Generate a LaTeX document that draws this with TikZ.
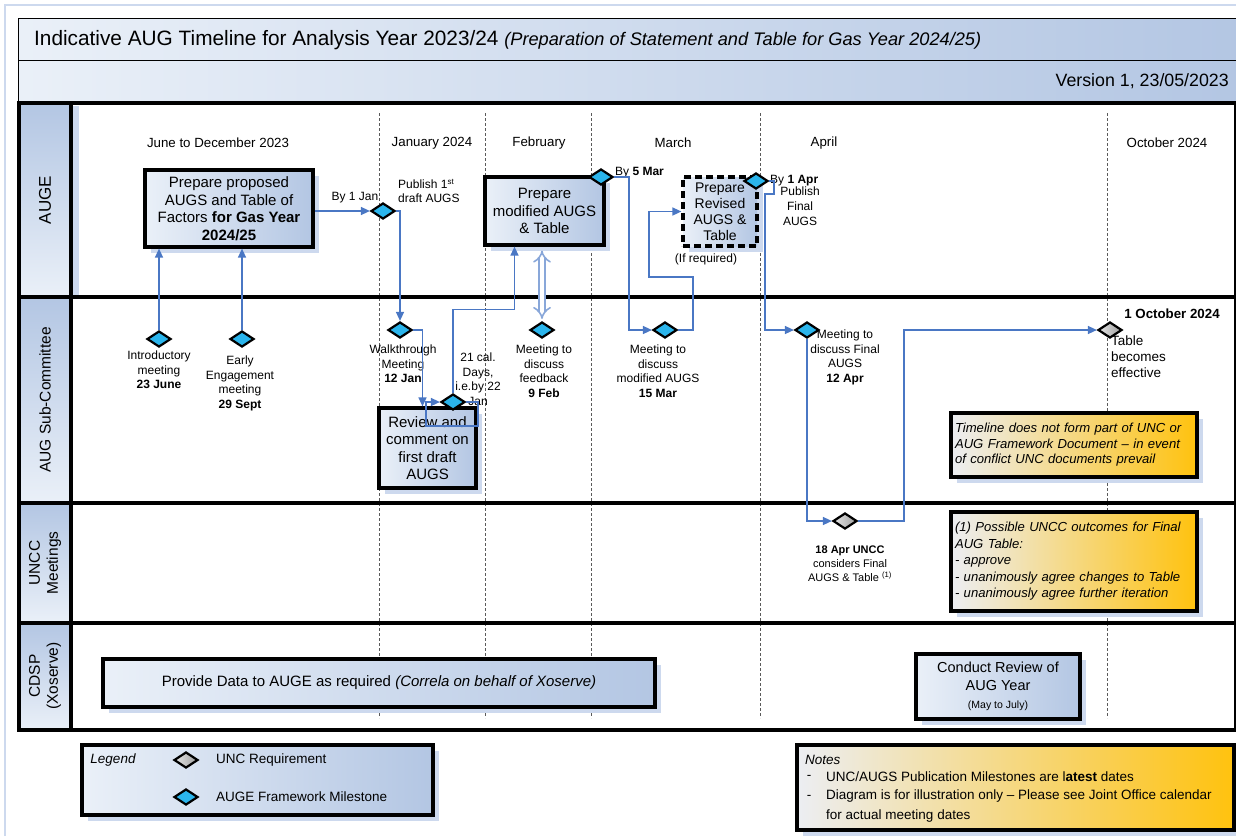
\documentclass[tikz,border=0pt]{standalone}
\usepackage{fontspec}
\setmainfont{Liberation Sans}
\usetikzlibrary{arrows.meta, calc, positioning, shapes.geometric, shadows}
\definecolor{PaleBlue}{HTML}{EAF0F8}
\definecolor{DeepBlue}{HTML}{B3C6E3}
\definecolor{ShadowBlue}{HTML}{CDD9EE}
\definecolor{LinkBlue}{HTML}{4A77C4}
\definecolor{MileBlue}{HTML}{2BB5EC}
\definecolor{Amber}{HTML}{FFC20E}
\definecolor{NoteGrey}{HTML}{ECEEF3}
\definecolor{GridGrey}{HTML}{5A5A5A}
\newcommand{\fsz}[2]{\fontsize{#1}{#2}\selectfont}
\tikzset{
  band/.style={draw=black, line width=0.9pt, left color=PaleBlue, right color=DeepBlue},
  lanehead/.style={top color=DeepBlue, bottom color=PaleBlue},
  laneline/.style={line width=3.5pt, color=black},
  monthline/.style={dash pattern=on 3pt off 2pt, draw=GridGrey, line width=1pt},
  month/.style={font=\fsz{13.3}{15}},
  lanetitle/.style={rotate=90, font=\fsz{15.5}{18}, align=center},
  taskbox/.style={draw=black, line width=3.2pt, left color=PaleBlue, right color=DeepBlue,
    align=center, inner sep=0pt, font=\fsz{15}{17.5},
    drop shadow={shadow xshift=6pt, shadow yshift=-6pt, fill=ShadowBlue, opacity=1}},
  revisedbox/.style={taskbox, dash pattern=on 7pt off 4pt, font=\fsz{14}{16}},
  notebox/.style={draw=black, line width=3.2pt, left color=NoteGrey, right color=Amber,
    align=left, inner sep=0pt,
    drop shadow={shadow xshift=6pt, shadow yshift=-6pt, fill=ShadowBlue, opacity=1}},
  milestone/.style={diamond, aspect=1.5, draw=black, line width=2.2pt, fill=MileBlue,
    minimum width=24pt, minimum height=16pt, inner sep=0pt},
  uncreq/.style={diamond, aspect=1.5, draw=black, line width=2.2pt,
    left color=gray!20, right color=gray!75,
    minimum width=24pt, minimum height=16pt, inner sep=0pt},
  link/.style={draw=LinkBlue, line width=1.4pt, -{Triangle[length=9pt, width=8pt]}},
  feedlink/.style={draw=LinkBlue!65, double=white, double distance=4.5pt, line width=1.6pt,
    {Implies}-{Implies}},
  label/.style={align=center, inner sep=0pt, font=\fsz{12}{14.5}},
  bylabel/.style={inner sep=0pt, font=\fsz{12}{14}},
}

\begin{document}
\begin{tikzpicture}[x=1pt, y=-1pt]
  \useasboundingbox (0,0) rectangle (1236,836);
  \draw[ShadowBlue, line width=1.5pt] (5,836) -- (5,5) -- (1236,5);

  % Title
  \draw[band] (18,18) rectangle (1245,60);
  \node[anchor=west, inner sep=0pt, font=\fsz{20.8}{22}] (title) at (34,40)
    {Indicative AUG Timeline for Analysis Year 2023/24 {\fsz{18.2}{20}\itshape (Preparation of Statement and Table for Gas Year 2024/25)}};
  \draw[band] (18,60) rectangle (1245,102);
  \node[anchor=east, inner sep=0pt, font=\fsz{17.8}{20}] (version) at (1229,81) {Version 1, 23/05/2023};

  % Lane headers
  \fill[lanehead] (19,103) rectangle (71,297);
  \fill[lanehead] (19,297) rectangle (71,503);
  \fill[lanehead] (19,503) rectangle (71,623);
  \fill[lanehead] (19,623) rectangle (71,730);
  \fill[ShadowBlue] (73,106) rectangle (79,295);
  \node[lanetitle, font=\fsz{17}{19}] (lane1) at (45,200) {AUGE};
  \node[lanetitle] (lane2) at (45,400) {AUG Sub-Committee};
  \node[lanetitle] (lane3) at (45,563) {UNCC\\Meetings};
  \node[lanetitle] (lane4) at (45,676) {CDSP\\(Xoserve)};

  % Month separators
  \foreach \mx in {379,485,591,760,1107}
    \draw[monthline] (\mx,113) -- (\mx,718);
  \node[month] (m1) at (218,143) {June to December 2023};
  \node[month] (m2) at (432,143) {January 2024};
  \node[month] (m3) at (539,143) {February};
  \node[month] (m4) at (673,143) {March};
  \node[month] (m5) at (824,143) {April};
  \node[month] (m6) at (1167,143) {October 2024};

  % Lane frame
  \foreach \ly in {103,297,503,623,730}
    \draw[laneline] (17.25,\ly) -- (1236,\ly);
  \draw[laneline] (19,103) -- (19,731.75);
  \draw[laneline] (71,103) -- (71,731.75);
  \draw[line width=2pt] (1235,103) -- (1235,730);

  % AUGE lane
  \node[taskbox, minimum width=168pt, minimum height=77pt] (propbox) at (229,208.5)
    {Prepare proposed\\AUGS and Table of\\Factors \textbf{for Gas Year}\\\textbf{2024/25}};
  \node[milestone] (jan1) at (383,211) {};
  \node[bylabel] (jan1txt) at (355,198) {By 1 Jan};
  \node[bylabel, anchor=north west, align=left] (publish1) at (398,179) {Publish 1\textsuperscript{st}\\draft AUGS};
  \node[taskbox, minimum width=119pt, minimum height=68pt] (modbox) at (544.5,211)
    {Prepare\\modified AUGS\\\& Table};
  \node[milestone] (mar5) at (601,177) {};
  \node[bylabel, anchor=west] (mar5txt) at (615,173) {By \textbf{5 Mar}};
  \node[revisedbox, minimum width=74pt, minimum height=69pt] (revbox) at (720,211.5)
    {Prepare\\Revised\\AUGS \&\\Table};
  \node[label] (ifreq) at (706,259) {(If required)};
  \node[milestone] (apr1) at (756,181) {};
  \node[label, font=\fsz{12}{15}] (publishfin) at (800,206) {Publish\\Final\\AUGS};
  \node[bylabel, anchor=west] (apr1txt) at (770,181) {By \textbf{1 Apr}};

  % AUG Sub-Committee lane
  \node[milestone] (intro) at (159,339) {};
  \node[label, anchor=north] (introtxt) at (159,351) {Introductory\\meeting\\\textbf{23 June}};
  \node[milestone] (early) at (242,339) {};
  \node[label, anchor=north] (earlytxt) at (240,356) {Early\\Engagement\\meeting\\\textbf{29 Sept}};
  \node[milestone] (walk) at (400,330) {};
  \node[label, anchor=north] (walktxt) at (403,345) {Walkthrough\\Meeting\\\textbf{12 Jan}};
  \node[taskbox, minimum width=97pt, minimum height=80pt] (review) at (427.5,448)
    {Review and\\comment on\\first draft\\AUGS};
  \node[milestone] (jan22) at (453,402) {};
  \node[label, anchor=north] (jan22txt) at (478,353) {21 cal.\\Days,\\i.e.by 22\\Jan};
  \node[milestone] (feedback) at (542,330) {};
  \node[label, anchor=north] (feedtxt) at (544,345) {Meeting to\\discuss\\feedback\\\textbf{9 Feb}};
  \node[milestone] (mar15) at (665,330) {};
  \node[label, anchor=north] (mar15txt) at (658,345) {Meeting to\\discuss\\modified AUGS\\\textbf{15 Mar}};
  \node[milestone] (final) at (807,330) {};
  \node[label, anchor=north] (finaltxt) at (845,330) {Meeting to\\discuss Final\\AUGS\\\textbf{12 Apr}};
  \node[uncreq] (oct1) at (1110,330) {};
  \node[bylabel, font=\bfseries\fsz{13.3}{14}] (oct1txt) at (1172,314) {1 October 2024};
  \node[anchor=north west, align=left, inner sep=0pt, font=\fsz{13.5}{16}] (effective) at (1111,336)
    {Table\\becomes\\effective};
  \node[notebox, minimum width=246pt, minimum height=64pt, text width=238pt, font=\itshape\fsz{13.1}{15.5}]
    (disclaimer) at (1074,445)
    {Timeline does not form part of UNC or\\AUG Framework Document -- in event\\of conflict UNC documents prevail};

  % UNCC lane
  \node[uncreq] (uncc) at (845,521) {};
  \node[label, font=\fsz{11}{14}] (uncctxt) at (850,564)
    {\textbf{18 Apr UNCC}\\considers Final\\AUGS \& Table \textsuperscript{(1)}};
  \node[notebox, minimum width=246pt, minimum height=99pt, text width=238pt, font=\itshape\fsz{13.1}{16.5}]
    (outcomes) at (1074,561.5)
    {(1) Possible UNCC outcomes for Final\\AUG Table:\\- approve\\- unanimously agree changes to Table\\- unanimously agree further iteration};

  % CDSP lane
  \node[taskbox, minimum width=552pt, minimum height=48pt, font=\fsz{15}{16}] (provide) at (379,683)
    {Provide Data to AUGE as required \textit{(Correla on behalf of Xoserve)}};
  \node[taskbox, minimum width=164pt, minimum height=65pt, font=\fsz{14.5}{18}] (conduct) at (998,686.5)
    {Conduct Review of\\AUG Year\\{\fsz{10.5}{12}(May to July)}};

  % Connectors
  \draw[link] (propbox.east |- jan1) -- (jan1.west);
  \draw[link] (jan1.east) -| (walk.north);
  \draw[link] (intro.north) -- (intro.north |- propbox.south);
  \draw[link] (early.north) -- (early.north |- propbox.south);
  \draw[link] (walk.east) -| ($(review.north)+(-5,0)$);
  \draw[link] (jan22.east) -- ++(12,0) -- ++(0,24) -| ($(jan22.west)+(-14,0)$) -- (jan22.west);
  \draw[link] (jan22.north) |- ($(modbox.south)+(-30,63)$) -- ($(modbox.south)+(-30,0)$);
  \draw[feedlink] ($(feedback |- modbox.south)+(0,4)$) -- ($(feedback.north)+(0,-2)$);
  \draw[link] (mar5.east) -- ++(15,0) |- (mar15.west);
  \draw[link] (mar15.east) -- ++(15,0) |- ++(-44,-53) |- (revbox.west);
  \draw[link] (apr1.east) -- ++(5,0) -- ++(0,13) -- ++(-9,0) |- (final.west);
  \draw[link] (final.south) |- (uncc.west);
  \draw[link] (uncc.east) -- ++(46,0) |- (oct1.west);

  % Legend
  \node[taskbox, minimum width=351pt, minimum height=70pt] (legend) at (257.5,780) {};
  \node[bylabel, font=\itshape\fsz{13.5}{14}] (legendtxt) at (113,760) {Legend};
  \node[uncreq] (keyunc) at (186,760) {};
  \node[bylabel, anchor=west, font=\fsz{13.5}{14}] (keyunctxt) at (216,760) {UNC Requirement};
  \node[milestone] (keyaug) at (186,797) {};
  \node[bylabel, anchor=west, font=\fsz{13.5}{14}] (keyaugtxt) at (216,797) {AUGE Framework Milestone};

  % Notes
  \node[notebox, minimum width=437pt, minimum height=85pt] (notes) at (1015.5,787.5) {};
  \node[bylabel, anchor=west, font=\itshape\fsz{13.5}{14}] (notestxt) at (805,760) {Notes};
  \node[bylabel, font=\fsz{13.5}{14}] (dash1) at (809,777) {-};
  \node[bylabel, anchor=west, font=\fsz{13.5}{14}] (note1) at (826,777)
    {UNC/AUGS Publication Milestones are l\textbf{atest} dates};
  \node[bylabel, font=\fsz{13.5}{14}] (dash2) at (809,797) {-};
  \node[bylabel, anchor=north west, align=left, font=\fsz{13.5}{19.5}] (note2) at (826,790)
    {Diagram is for illustration only -- Please see Joint Office calendar\\for actual meeting dates};
\end{tikzpicture}
\end{document}
